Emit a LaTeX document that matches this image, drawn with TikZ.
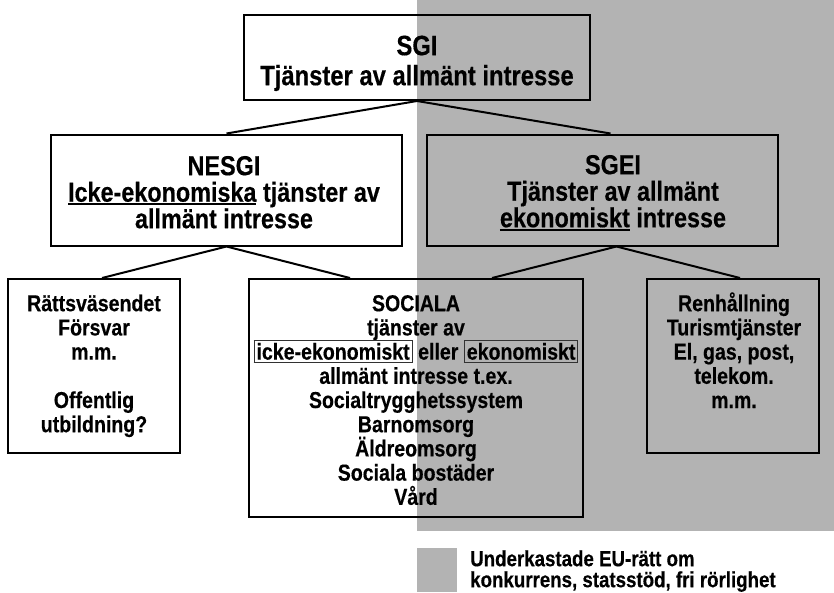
\documentclass[tikz,border=0pt]{standalone}
\usepackage{fontspec}
\setmainfont[FakeStretch=0.85,FakeBold=0.4]{Liberation Sans}
\definecolor{eugray}{RGB}{179,179,179}
\definecolor{iboxgray}{RGB}{50,50,50}
\newsavebox\ulbox
\newcommand\ulin[1]{\sbox\ulbox{#1}\rlap{\rule[-3.4pt]{\wd\ulbox}{1.8pt}}\usebox\ulbox}
\newcommand\ibox[1]{{\setlength\fboxrule{1pt}\setlength\fboxsep{2pt}\color{iboxgray}\fbox{\color{black}#1}}}
\newcommand\topfix[1]{\rule{0pt}{#1}}
\tikzset{
  box/.style={draw, line width=2pt, inner sep=0pt},
  conn/.style={line width=2pt},
  bigtext/.style={anchor=north, align=center, inner sep=0pt,
    font={\fontsize{27.5}{26.5}\selectfont\bfseries\lineskiplimit=-50pt}},
  smalltext/.style={anchor=north, align=center, inner sep=0pt,
    font={\fontsize{23}{24.2}\selectfont\bfseries\lineskiplimit=-50pt}},
}
\begin{document}
\begin{tikzpicture}[x=1pt,y=-1pt]
\useasboundingbox (0,0) rectangle (834,592);
% shaded region
\fill[eugray] (417,0) rectangle (834,531);

% boxes
\node[box, minimum width=346pt, minimum height=85pt] (sgi) at (417,57.5) {};
\node[box, minimum width=351pt, minimum height=111pt] (nesgi) at (226.5,190) {};
\node[box, minimum width=351pt, minimum height=111pt] (sgei) at (602.5,190) {};
\node[box, minimum width=172pt, minimum height=174pt] (left) at (94,366) {};
\node[box, minimum width=334pt, minimum height=238pt] (social) at (416,398) {};
\node[box, minimum width=172pt, minimum height=174pt] (right) at (733,366) {};

% texts
\node[anchor=north, align=center, inner sep=0pt,
  font={\fontsize{28}{30}\selectfont\bfseries}] (sgitext) at (417,30)
  {\topfix{25pt}SGI\\Tjänster av allmänt intresse};
\node[bigtext] (nesgitext) at (224,150)
  {\topfix{25pt}NESGI\\\ulin{Icke-ekonomiska} tjänster av\\allmänt intresse};
\node[bigtext] (sgeitext) at (613,149)
  {\topfix{25pt}SGEI\\Tjänster av allmänt\\\ulin{ekonomiskt} intresse};
\node[smalltext] (lefttext) at (94,290)
  {\topfix{21pt}Rättsväsendet\\Försvar\\m.m.\\[24.2pt]Offentlig\\utbildning?};
\node[smalltext] (socialtext) at (416,290)
  {\topfix{21pt}SOCIALA\\tjänster av\\\ibox{icke-ekonomiskt} eller \ibox{ekonomiskt}\\allmänt intresse t.ex.\\Socialtrygghetssystem\\Barnomsorg\\Äldreomsorg\\Sociala bostäder\\Vård};
\node[smalltext] (righttext) at (734,290)
  {\topfix{21pt}Renhållning\\Turismtjänster\\El, gas, post,\\telekom.\\m.m.};

% connectors
\draw[conn] (sgi.south) -- (nesgi.north);
\draw[conn] (sgi.south) -- ([xshift=8pt]sgei.north);
\draw[conn] (nesgi.south) -- ([xshift=8pt]left.north);
\draw[conn] (nesgi.south) -- ([xshift=-66pt]social.north);
\draw[conn] ([xshift=14pt]sgei.south) -- ([xshift=76pt]social.north);
\draw[conn] ([xshift=14pt]sgei.south) -- ([xshift=7pt]right.north);

% legend
\node[fill=eugray, minimum width=40pt, minimum height=44pt, inner sep=0pt] (legsq) at (437,570) {};
\node[anchor=north west, align=left, inner sep=0pt,
  font={\fontsize{22}{21}\selectfont\bfseries}] (legtext) at (470,546)
  {\topfix{20pt}Underkastade EU-rätt om\\konkurrens, statsstöd, fri rörlighet};
\end{tikzpicture}
\end{document}
